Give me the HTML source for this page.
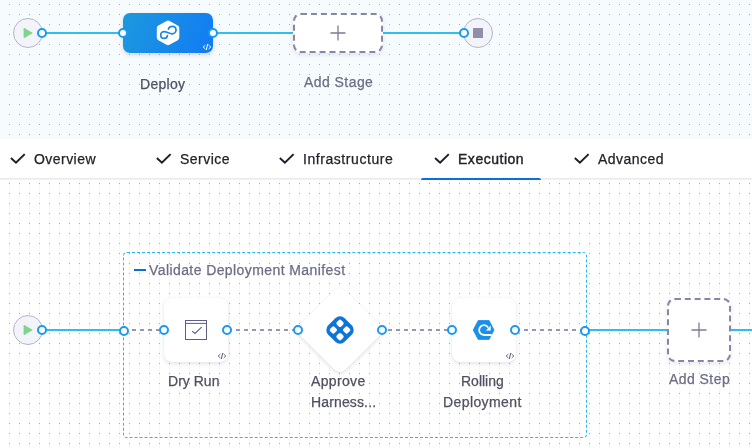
<!DOCTYPE html>
<html lang="en">
<head>
<meta charset="utf-8">
<title>Pipeline Studio</title>
<style>
*{box-sizing:border-box;margin:0;padding:0}
html,body{width:752px;height:448px;overflow:hidden;background:#fff}
body{position:relative;font-family:"Liberation Sans",Arial,sans-serif;font-size:14px;color:#4f5162;-webkit-font-smoothing:antialiased}
.abs{position:absolute}
#top{position:absolute;left:0;top:0;width:752px;height:139px;background-color:#f6fbfe;
 background-image:radial-gradient(circle at .5px .5px,#aaacb1 .55px,rgba(170,172,177,0) .95px);background-size:10px 10px;background-position:9px 4px;overflow:hidden}
#tabs{position:absolute;left:0;top:139px;width:752px;height:39px;background:#fff;z-index:5}
#tabline{position:absolute;left:0;top:178px;width:752px;height:2px;background:linear-gradient(#e4e5e8,#f7f7f8);z-index:6}
#under{position:absolute;left:421px;top:178px;width:120px;height:2px;background:#0a70d6;border-radius:2px 2px 0 0;z-index:7}
#bot{position:absolute;left:0;top:178px;width:752px;height:270px;background-color:#fff;
 background-image:radial-gradient(circle at .5px .5px,#aaacb1 .55px,rgba(170,172,177,0) .95px),linear-gradient(90deg,#f3fafd 1px,rgba(243,250,253,0) 1px);background-size:10px 10px,10px 10px;background-position:9px 5px,9px 0;overflow:hidden}
.t{will-change:transform;position:absolute;white-space:nowrap;line-height:16px;font-size:14px;-webkit-text-stroke:.25px currentColor}
.tab{color:#22222a}
.g5{color:#6b6d85}
.g6{color:#4f5162}
.circ{position:absolute;width:30px;height:30px;border-radius:50%;background:#f3f3fa;border:1px solid #b5b3cc}
.port{position:absolute;width:10px;height:10px;border-radius:50%;background:#fff;border:2px solid #1a9af0}
.step{position:absolute;width:64px;height:64px;border-radius:8px;background:#fff;box-shadow:0 0 1px rgba(40,41,61,.08),0 2px 4px rgba(96,97,112,.16)}
.add{position:absolute;border-radius:8px;background:#fff;border:2px dashed #8886a6;box-shadow:0 2px 5px rgba(96,97,112,.14)}
svg{position:absolute;left:0;top:0;overflow:visible}
</style>
</head>
<body>
<div id="top">
  <svg width="752" height="139" viewBox="0 0 752 139">
    <g stroke="#fff" stroke-width="4" opacity=".7"><path d="M42 33H123M213 33H293M383 33H464"/></g>
    <g stroke="#33bcf2" stroke-width="2"><path d="M42 33H123M213 33H293M383 33H464"/></g>
  </svg>
  <div class="circ" style="left:13px;top:18px"></div>
  <svg width="752" height="139"><path d="M24 28.2L32.2 33L24 37.8Z" fill="#7fd48a" stroke="#7fd48a" stroke-width=".8" stroke-linejoin="round"/></svg>
  <div class="circ" style="left:463px;top:18px"></div>
  <div class="abs" style="left:473px;top:28px;width:10px;height:10px;background:#908fa9"></div>

  <div class="abs" id="deploy" style="left:123px;top:13px;width:90px;height:40px;border-radius:7px;background:linear-gradient(115deg,#1b98df 5%,#127cf3 95%);box-shadow:0 2px 4px rgba(96,97,112,.22)"></div>
  <svg width="752" height="139">
    <path d="M168.05 23.6L176.3 28.2V37.6L168.05 42.2L159.8 37.6V28.2Z" fill="#fff" stroke="#fff" stroke-width="6" stroke-linejoin="round"/>
    <path d="M168.4 29C169 27.3 170.6 26.4 172.3 26.4C174.4 26.4 176 28 176 30.1C176 32.2 174.3 33.8 172.2 33.8C169.5 33.8 166.8 31.7 164.1 31.7C162.2 31.7 160.7 33.2 160.7 35C160.7 36.9 162.2 38.4 164.1 38.4C165.8 38.4 167.2 37.2 167.4 35.6" fill="none" stroke="#1888e6" stroke-width="1.7" stroke-linecap="round"/>
    <g fill="none" stroke="#fff" stroke-width=".9" stroke-linecap="round" stroke-linejoin="round"><path d="M205.1 45.3L203.1 47.0L205.1 48.7M208.9 45.3L210.9 47.0L208.9 48.7"/><path stroke-width="1" d="M207.7 44.3L206.3 49.7"/></g>
  </svg>
  <div class="port" style="left:37px;top:28px"></div>
  <div class="port" style="left:118px;top:28px"></div>
  <div class="port" style="left:208px;top:28px"></div>
  <div class="port" style="left:459px;top:28px"></div>

  <div class="add" style="left:293px;top:13px;width:90px;height:40px"></div>
  <svg width="752" height="139"><path d="M338 25.5V40.5M330.5 33H345.5" stroke="#7d7b9b" stroke-width="1.3" fill="none"/></svg>

  <div class="t g6" id="t_deploy" style="letter-spacing:0.28px;left:139.5px;top:76px">Deploy</div>
  <div class="t g5" id="t_addstage" style="letter-spacing:0.44px;left:303.7px;top:74px">Add Stage</div>
</div>

<div id="bot">
  <!-- coordinates inside #bot are page y - 178 -->
  <div class="abs" id="group" style="left:123px;top:74px;width:464px;height:186px;border:1px dashed #2bb7f0;border-radius:4px"></div>
  <svg width="752" height="270" viewBox="0 178 752 270">
    <g stroke="#33bcf2" stroke-width="2" fill="none"><path d="M42 330H124M585 330H667M731 330H752"/></g>
    <g stroke="#9695b2" stroke-width="2" fill="none" stroke-dasharray="4 4"><path d="M124 330H164M228 330H298M380 330H452M516 330H585"/></g>
    <path d="M134 270H146" stroke="#0a70d6" stroke-width="2"/>
  </svg>
  <div class="circ" style="left:13px;top:137px"></div>
  <svg width="752" height="270" viewBox="0 178 752 270"><path d="M24 325.2L32.2 330L24 334.8Z" fill="#7fd48a" stroke="#7fd48a" stroke-width=".8" stroke-linejoin="round"/></svg>

  <div class="step" style="left:164px;top:120px"></div>
  <div class="step" style="left:308px;top:120px;transform:rotate(45deg);box-shadow:0 0 1px rgba(40,41,61,.08),1.4px 1.4px 4px rgba(96,97,112,.16)"></div>
  <div class="step" style="left:452px;top:120px"></div>
  <div class="add" style="left:667px;top:120px;width:64px;height:64px"></div>

  <svg width="752" height="270" viewBox="0 178 752 270">
    <!-- dry run icon -->
    <g fill="none" stroke="#5d5f7e" stroke-width="1"><rect x="185.5" y="320.5" width="21" height="19"/><path d="M185.5 323.4H206.5"/><path d="M192.1 331.1L195 333.5L201.6 327.2" stroke-width="1.1"/></g>
    <g fill="none" stroke="#50527a" stroke-width=".85" stroke-linecap="round" stroke-linejoin="round"><path d="M220.1 354.3L218.1 356.0L220.1 357.7M223.9 354.3L225.9 356.0L223.9 357.7"/><path stroke-width="1" d="M222.7 353.3L221.3 358.7"/><path d="M508.1 354.3L506.1 356.0L508.1 357.7M511.9 354.3L513.9 356.0L511.9 357.7"/><path stroke-width="1" d="M510.7 353.3L509.3 358.7"/></g>
    <!-- approve icon -->
    <g transform="translate(340 330) rotate(45)">
      <rect x="-11.6" y="-11.6" width="23.2" height="23.2" rx="6.6" fill="#0f74d9"/>
      <rect x="-7.8" y="-7.8" width="6.2" height="6.2" rx="1.8" fill="#fff"/>
      <rect x="1.6" y="-7.8" width="6.2" height="6.2" rx="1.8" fill="#fff"/>
      <rect x="-7.8" y="1.6" width="6.2" height="6.2" rx="1.8" fill="#fff"/>
      <rect x="1.6" y="1.6" width="6.2" height="6.2" rx="1.8" fill="#fff"/>
    </g>
    <!-- rolling icon -->
    <path d="M473.2 330L478.2 320.5H489.1L494 330L489.1 339.4H478.2Z" fill="#1a91e8" stroke="#1a91e8" stroke-width=".8" stroke-linejoin="round"/>
    <path d="M491.8 335H484A4.9 4.9 0 1 1 488.2 327.6" fill="none" stroke="#fff" stroke-width="1.8"/>
    <path d="M490.7 325.5V330.5H485.8Z" fill="#fff"/>
    <path d="M699 322.5V337.5M691.5 330H706.5" stroke="#7d7b9b" stroke-width="1.3" fill="none"/>
  </svg>

  <div class="port" style="left:37px;top:147px"></div>
  <div class="port" style="left:119px;top:148px"></div>
  <div class="port" style="left:159px;top:147px"></div>
  <div class="port" style="left:222px;top:147px"></div>
  <div class="port" style="left:293px;top:147px"></div>
  <div class="port" style="left:377px;top:147px"></div>
  <div class="port" style="left:447px;top:147px"></div>
  <div class="port" style="left:510px;top:147px"></div>
  <div class="port" style="left:580px;top:148px"></div>

  <div class="t g5" id="t_group" style="letter-spacing:0.41px;left:148.8px;top:83.9px">Validate Deployment Manifest</div>
  <div class="t g6" id="t_dry" style="letter-spacing:0.02px;left:167.9px;top:194.8px">Dry Run</div>
  <div class="t g6" id="t_app" style="letter-spacing:0.34px;left:311.4px;top:194.8px">Approve</div>
  <div class="t g6" id="t_har" style="letter-spacing:0.14px;left:311.4px;top:215.8px">Harness...</div>
  <div class="t g6" id="t_rol" style="letter-spacing:0.00px;left:460.6px;top:194.8px">Rolling</div>
  <div class="t g6" id="t_dep2" style="letter-spacing:0.40px;left:443.2px;top:215.6px">Deployment</div>
  <div class="t g5" id="t_addstep" style="letter-spacing:0.44px;left:668.7px;top:192.5px">Add Step</div>
</div>

<div id="tabs">
  <svg width="752" height="39" viewBox="0 139 752 39"><g fill="none" stroke="#1d1e2c" stroke-width="2" stroke-linecap="square" stroke-linejoin="miter">
    <path d="M11.7 158.7L16.0 162.7L24.0 154.8"/>
    <path d="M157.6 158.7L161.9 162.7L169.9 154.8"/>
    <path d="M280.6 158.7L284.9 162.7L292.9 154.8"/>
    <path d="M435.8 158.7L440.1 162.7L448.1 154.8"/>
    <path d="M575.6 158.7L579.9 162.7L587.9 154.8"/>
  </g></svg>
  <div class="t tab" id="t_ov" style="letter-spacing:0.45px;left:34.2px;top:12px">Overview</div>
  <div class="t tab" id="t_sv" style="letter-spacing:0.47px;left:180.2px;top:12px">Service</div>
  <div class="t tab" id="t_in" style="letter-spacing:0.56px;left:303px;top:12px">Infrastructure</div>
  <div class="t tab" id="t_ex" style="letter-spacing:0.52px;left:458.1px;top:12px;-webkit-text-stroke:.42px currentColor">Execution</div>
  <div class="t tab" id="t_ad" style="letter-spacing:0.47px;left:598px;top:12px">Advanced</div>
</div>
<div id="tabline"></div>
<div id="under"></div>
</body>
</html>
